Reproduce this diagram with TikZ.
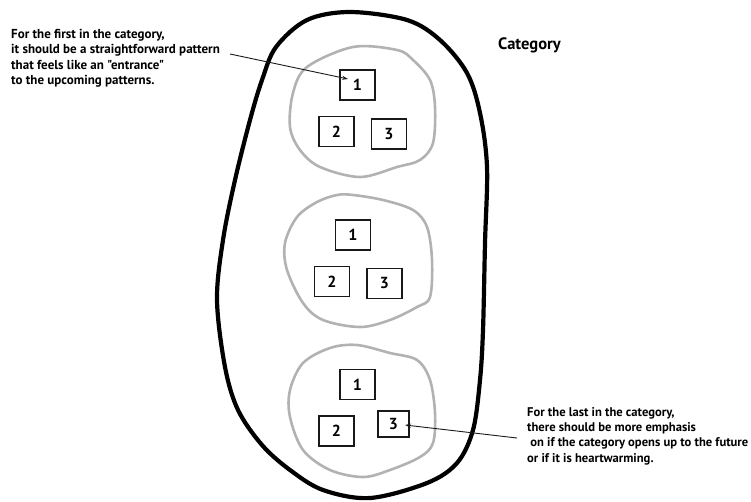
\documentclass[tikz,border=0pt]{standalone}
\usepackage{fontspec}
\usepackage{tikz}
\usetikzlibrary{arrows.meta, positioning, calc}
\newfontfamily\notefont{PT Sans}
\definecolor{blobgray}{RGB}{178,178,178}
\definecolor{ink}{RGB}{25,25,25}

\begin{document}
\begin{tikzpicture}[x=1pt, y=-1pt,
  pat/.style={draw=ink, line width=1.7pt, minimum width=35pt, minimum height=30pt, inner sep=0pt, font=\notefont\bfseries\fontsize{16}{16}\selectfont},
  note/.style={anchor=north west, align=left, inner sep=0pt, font=\notefont\bfseries\fontsize{13}{15.5}\selectfont},
  group/.style={blobgray, line width=2.6pt, smooth cycle, tension=0.55},
  pointer/.style={ink, line width=0.9pt, -{Stealth[length=6pt, width=4pt]}}]
  \useasboundingbox (0,0) rectangle (751,501);

  % Category outline
  \draw[black, line width=4.2pt, smooth cycle, tension=0.55] plot coordinates {(350,12) (407,20) (440,40) (467,73) (480,113) (487,167) (485,243) (483,330) (480,380) (473,430) (457,463) (427,483) (370,498) (323,490) (290,470) (262,445) (238,410) (225,367) (217,300) (223,240) (235,180) (250,120) (262,80) (276,47) (307,20)};
  \node[anchor=west, inner sep=0pt, font=\notefont\bfseries\fontsize{16.5}{16.5}\selectfont] (cat) at (498,45) {Category};

  % Pattern groups
  \draw[group] plot coordinates {(353,47) (397,50) (413,60) (430,80) (435,107) (433,143) (420,160) (397,167) (360,177) (320,167) (300,150) (290,127) (293,93) (307,67)};
  \draw[group] plot coordinates {(353,195) (383,200) (413,210) (427,227) (432,260) (430,297) (417,307) (390,320) (360,327) (323,320) (303,303) (287,270) (285,243) (297,217) (317,202) (337,195)};
  \draw[group] plot coordinates {(357,345) (390,353) (417,360) (430,380) (435,413) (433,443) (420,457) (390,470) (363,477) (330,470) (303,450) (290,417) (290,390) (303,363) (330,348)};

  % Patterns
  \node[pat] (t1) at (357.5,85) {1};
  \node[pat] (t2) at (336.5,131.5) {2};
  \node[pat] (t3) at (389,134) {3};
  \node[pat] (m1) at (353,235) {1};
  \node[pat] (m2) at (332,281.5) {2};
  \node[pat] (m3) at (384.5,283.5) {3};
  \node[pat] (b1) at (357.5,384.5) {1};
  \node[pat] (b2) at (336.5,431) {2};
  \node[pat, minimum width=31pt, minimum height=26pt] (b3) at (393.5,424) {3};

  % Notes
  \node[note] (first) at (11,29) {For the first in the category,\\it should be a straightforward pattern\\that feels like an "entrance"\\to the upcoming patterns.};
  \node[note, font=\notefont\bfseries\fontsize{12.6}{15.3}\selectfont] (last) at (527,407) {For the last in the category,\\there should be more emphasis\\\ on if the category opens up to the future\\or if it is heartwarming.};

  \coordinate (fromfirst) at (230,54);
  \coordinate (fromlast) at (517,438);
  \draw[pointer] (fromfirst) -- ($(t1.center)+(-9.5,-6)$);
  \draw[pointer] (fromlast) -- ($(b3.center)+(11.5,1)$);
\end{tikzpicture}
\end{document}
